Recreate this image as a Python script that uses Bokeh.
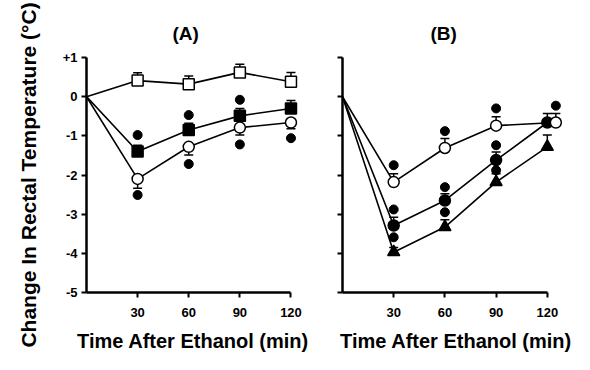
from bokeh.plotting import figure
from bokeh.layouts import row
from bokeh.models import Whisker, TeeHead, ColumnDataSource, FixedTicker, Range1d
from bokeh.embed import file_html
from bokeh.resources import INLINE

FONT = "Liberation Sans"

# ---------------- Panel A data ----------------
time_a = [0, 30, 60, 90, 120]
a_open_sq = [0, 0.41, 0.32, 0.62, 0.38]
a_open_sq_err_hi = [0.61, 0.53, 0.83, 0.62]

a_fill_sq = [0, -1.40, -0.85, -0.49, -0.30]
a_fill_sq_err_hi = [-1.24, -0.68, -0.30, -0.10]
a_fill_sq_star_t = [30, 60, 90]
a_fill_sq_star = [-0.98, -0.47, -0.08]

a_open_ci = [0, -2.10, -1.28, -0.79, -0.66]
a_open_ci_err_lo = [-2.34, -1.49, -0.98, -0.82]
a_open_ci_star_t = [30, 60, 90, 120]
a_open_ci_star = [-2.51, -1.72, -1.22, -1.06]

# ---------------- Panel B data ----------------
time_b = [0, 30, 60, 90, 120]
time_b_open = [0, 30, 60, 90, 125]
b_open_ci = [0, -2.18, -1.31, -0.74, -0.66]
b_open_ci_err_hi = [-1.97, -1.07, -0.51, -0.43]
b_open_ci_star_t = [30, 60, 90, 125]
b_open_ci_star = [-1.75, -0.88, -0.30, -0.23]

b_fill_ci = [0, -3.29, -2.65, -1.62, -0.66]
b_fill_ci_err_hi = [-3.08, -2.48, -1.41, -0.43]
b_fill_ci_star_t = [30, 60, 90]
b_fill_ci_star = [-2.88, -2.31, -1.24]

b_tri = [0, -3.97, -3.33, -2.18, -1.28]
b_tri_err_hi = [-3.85, -3.14, -1.97, -0.98]
b_tri_star_t = [30, 60, 90]
b_tri_star = [-3.59, -2.95, -1.88]

x_ticks = [30, 60, 90, 120]
y_ticks = [-5, -4, -3, -2, -1, 0, 1]
y_tick_labels = {-5: "-5", -4: "-4", -3: "-3", -2: "-2", -1: "-1", 0: "0", 1: "+1"}

X_LABEL = "Time After Ethanol (min)"
Y_LABEL = "Change In Rectal Temperature (\u00b0C)"


def make_fig(title, x_end, frame_w, border_left, border_right, title_offset, show_ylabels):
    p = figure(output_backend="svg", toolbar_location=None,
               frame_width=frame_w, frame_height=235,
               x_range=Range1d(0, x_end), y_range=Range1d(-5, 1),
               min_border_left=border_left, min_border_right=border_right,
               min_border_top=57, min_border_bottom=70,
               background_fill_color="white", border_fill_color="white")
    p.outline_line_color = None
    p.grid.visible = False
    p.title.text = title
    p.title.align = "left"
    p.title.offset = title_offset
    p.title.text_font = FONT
    p.title.text_font_style = "bold"
    p.title.text_font_size = "19px"
    p.title.text_color = "black"
    p.title.standoff = 27
    for ax in (p.xaxis[0], p.yaxis[0]):
        ax.axis_line_width = 2.5
        ax.axis_line_color = "black"
        ax.major_tick_line_width = 2
        ax.major_tick_line_color = "black"
        ax.major_tick_out = 5
        ax.major_tick_in = 0
        ax.minor_tick_line_color = None
        ax.major_label_text_font = FONT
        ax.major_label_text_font_style = "bold"
        ax.major_label_text_font_size = "13px"
        ax.major_label_text_color = "black"
        ax.axis_label_text_font = FONT
        ax.axis_label_text_font_style = "bold"
        ax.axis_label_text_color = "black"
    p.xaxis.axis_label_text_font_size = "20px"
    p.yaxis.axis_label_text_font_size = "21px"
    p.xaxis.ticker = FixedTicker(ticks=x_ticks)
    p.xaxis.bounds = (0, 120)
    p.xaxis.major_label_standoff = 10
    p.xaxis.axis_label = X_LABEL
    p.xaxis.axis_label_standoff = 10
    p.yaxis.ticker = FixedTicker(ticks=y_ticks)
    p.yaxis.bounds = (-5, 1)
    p.yaxis.major_label_standoff = 4
    if show_ylabels:
        p.yaxis.major_label_overrides = y_tick_labels
        p.yaxis.axis_label = Y_LABEL
        p.yaxis.axis_label_standoff = 20
    else:
        p.yaxis.major_label_overrides = {k: "" for k in y_ticks}
    return p


def series(p, t, y, marker, fill, size, err_hi=None, err_lo=None, star_t=None, star_y=None):
    p.line(t, y, line_color="black", line_width=1.6)
    pts_t = t[1:]
    pts_y = y[1:]
    if err_hi is not None:
        src = ColumnDataSource(dict(base=pts_t, lower=pts_y, upper=err_hi))
        p.add_layout(Whisker(source=src, base="base", lower="lower", upper="upper",
                             line_width=1.5, line_color="black",
                             upper_head=TeeHead(size=9, line_width=1.5, line_color="black"),
                             lower_head=None))
    if err_lo is not None:
        src = ColumnDataSource(dict(base=pts_t, lower=err_lo, upper=pts_y))
        p.add_layout(Whisker(source=src, base="base", lower="lower", upper="upper",
                             line_width=1.5, line_color="black",
                             lower_head=TeeHead(size=9, line_width=1.5, line_color="black"),
                             upper_head=None))
    if star_t is not None:
        p.scatter(star_t, star_y, marker="circle", size=9, fill_color="black", line_color="black")
    p.scatter(pts_t, pts_y, marker=marker, size=size, fill_color=fill,
              line_color="black", line_width=1.5)


pa = make_fig("(A)", 125, 213, 86, 11, 86, True)
series(pa, time_a, a_open_sq, "square", "white", 11, err_hi=a_open_sq_err_hi)
series(pa, time_a, a_fill_sq, "square", "black", 11, err_hi=a_fill_sq_err_hi,
       star_t=a_fill_sq_star_t, star_y=a_fill_sq_star)
series(pa, time_a, a_open_ci, "circle", "white", 11, err_lo=a_open_ci_err_lo,
       star_t=a_open_ci_star_t, star_y=a_open_ci_star)

pb = make_fig("(B)", 133, 227, 32, 13, 88, False)
series(pb, time_b, b_tri, "triangle", "black", 12, err_hi=b_tri_err_hi,
       star_t=b_tri_star_t, star_y=b_tri_star)
series(pb, time_b, b_fill_ci, "circle", "black", 11, err_hi=b_fill_ci_err_hi,
       star_t=b_fill_ci_star_t, star_y=b_fill_ci_star)
series(pb, time_b_open, b_open_ci, "circle", "white", 11, err_hi=b_open_ci_err_hi,
       star_t=b_open_ci_star_t, star_y=b_open_ci_star)

layout = row(pa, pb)
open("out.html", "w").write(file_html(layout, INLINE))
